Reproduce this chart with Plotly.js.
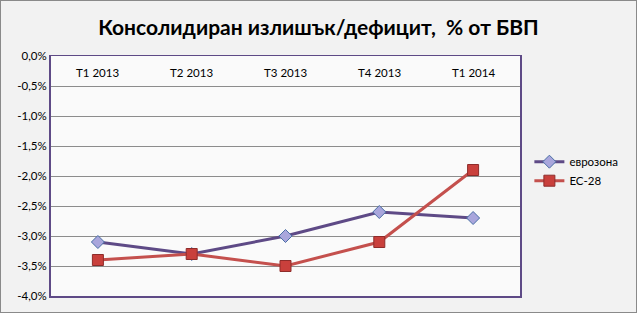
<!DOCTYPE html>
<html>
<head>
<meta charset="utf-8">
<script src="https://cdn.plot.ly/plotly-3.0.1.min.js"></script>
<style>
html,body{margin:0;padding:0;background:#f2f2f2;}
#wrap{width:635px;height:311px;border:1px solid #8a8a8a;}
#chart{width:635px;height:311px;}
</style>
</head>
<body>
<div id="wrap"><div id="chart"></div></div>
<script>
const categories = ["T1 2013", "T2 2013", "T3 2013", "T4 2013", "T1 2014"];
const eurozone = [-3.1, -3.3, -3.0, -2.6, -2.7];
const eu28 = [-3.4, -3.3, -3.5, -3.1, -1.9];
const yTicks = [0, -0.5, -1.0, -1.5, -2.0, -2.5, -3.0, -3.5, -4.0];
const yTickLabels = ["0,0%", "-0,5%", "-1,0%", "-1,5%", "-2,0%", "-2,5%", "-3,0%", "-3,5%", "-4,0%"];

const traces = [
  {
    x: categories, y: eurozone, name: "еврозона", type: "scatter", mode: "lines+markers",
    line: {color: "#5e4a86", width: 3},
    marker: {symbol: "diamond", size: 10, color: "#a9a6dc", line: {color: "#4a6fa5", width: 1}}
  },
  {
    x: categories, y: eu28, name: "ЕС-28", type: "scatter", mode: "lines+markers",
    line: {color: "#c4504d", width: 3},
    marker: {symbol: "square", size: 11, color: "#c9403c", line: {color: "#8e2c2a", width: 1}}
  }
];

const annotations = categories.map(c => ({
  x: c, xref: "x", y: 1, yref: "paper", yshift: -16,
  text: c, showarrow: false, xanchor: "center", yanchor: "middle",
  font: {size: 11.5, family: "Lato, 'Noto Sans', sans-serif", color: "#000"}
}));

const layout = {
  width: 635, height: 311,
  margin: {l: 50, r: 116, t: 55, b: 16},
  paper_bgcolor: "#f2f2f2",
  plot_bgcolor: "#fafafa",
  font: {family: "Lato, 'Noto Sans', sans-serif", size: 11.5, color: "#000"},
  title: {
    text: "<b>Консолидиран излишък/дефицит,  % от БВП</b>",
    font: {family: "Lato, 'Noto Sans', sans-serif", size: 21, color: "#000"},
    x: 0.5, xanchor: "center", y: 0.915, yanchor: "middle"
  },
  showlegend: true,
  legend: {
    x: 1.02, xanchor: "left", y: 0.52, yanchor: "middle",
    bgcolor: "rgba(0,0,0,0)", font: {size: 11.5, family: "Lato, 'Noto Sans', sans-serif"},
    tracegroupgap: 4, itemwidth: 30
  },
  annotations: annotations,
  xaxis: {
    type: "category", range: [-0.5, 4.5],
    showticklabels: false, ticks: "", showgrid: false, zeroline: false,
    showline: true, linecolor: "#5e4a86", linewidth: 1.5, mirror: true, fixedrange: true
  },
  yaxis: {
    range: [-4, 0], tickvals: yTicks, ticktext: yTickLabels,
    showgrid: true, gridcolor: "#8c8c8c", gridwidth: 1, zeroline: false,
    showline: true, linecolor: "#5e4a86", linewidth: 2, mirror: true,
    ticks: "", ticklen: 0, tickfont: {size: 11.5}, fixedrange: true
  }
};

Plotly.newPlot("chart", traces, layout, {displayModeBar: false, staticPlot: true});
</script>
</body>
</html>
